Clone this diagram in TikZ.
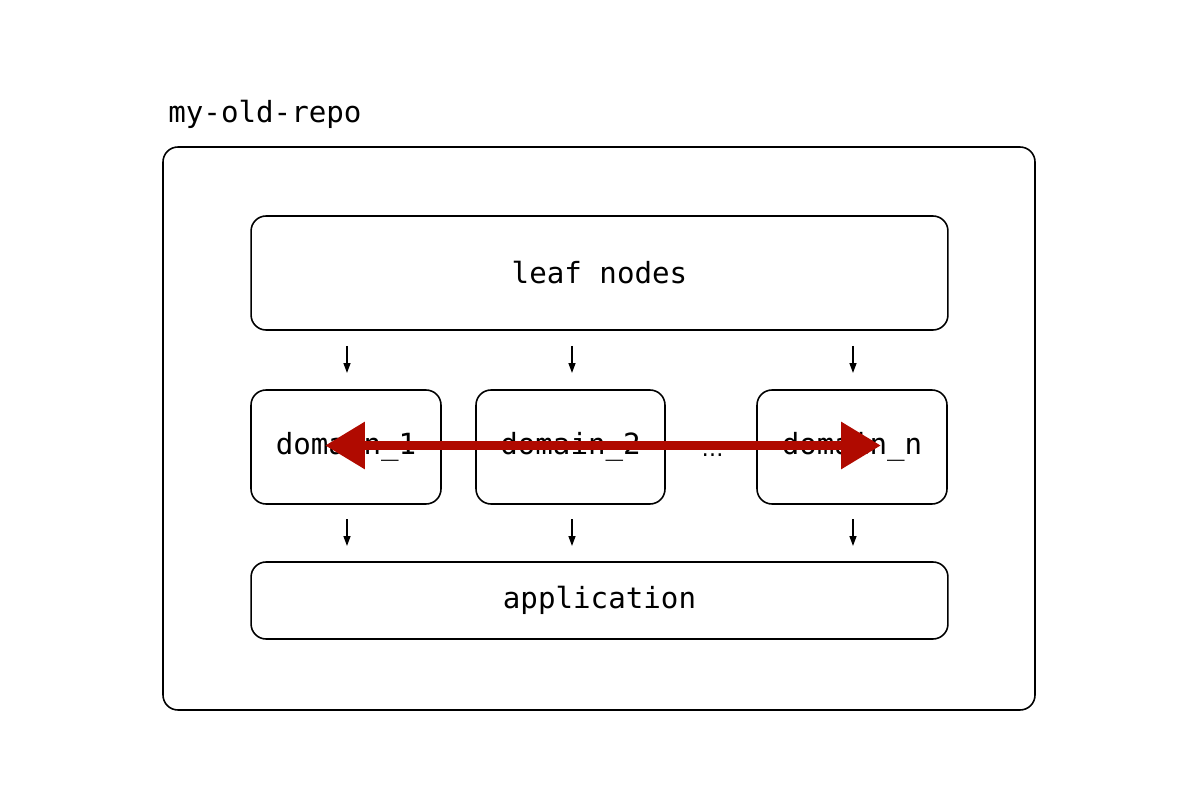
\documentclass[tikz,border=0pt]{standalone}
\usepackage{fontspec}
\setmonofont{DejaVu Sans Mono}
\newfontfamily\dotsfont{DejaVu Sans}
\usetikzlibrary{arrows.meta}
\definecolor{arrowred}{HTML}{B00A00}
\begin{document}
\begin{tikzpicture}[x=0.02cm,y=-0.02cm,
  box/.style={draw=black, line width=0.9pt, rounded corners=0.3cm},
  lbl/.style={font=\ttfamily\fontsize{16.6}{19}\selectfont, inner sep=0pt},
  flow/.style={-{Triangle[length=0.2cm,width=0.14cm]}, line width=0.8pt},
  bigarrow/.style={{Triangle[length=0.8cm,width=0.9cm]}-{Triangle[length=0.8cm,width=0.9cm]}, line width=0.19cm, draw=arrowred, fill=arrowred}]
\useasboundingbox (0,0) rectangle (1200,800);
\node[lbl, anchor=base west] (title) at (168,123) {my-old-repo};
\draw[box] (163,147) rectangle (1035,710);
\node[box, minimum width=13.94cm, minimum height=2.28cm] (leaf) at (599.5,273) {};
\node[lbl] (leaft) at (leaf.center) {leaf nodes};
\node[box, minimum width=3.8cm, minimum height=2.28cm] (d1) at (346,447) {};
\node[box, minimum width=3.78cm, minimum height=2.28cm] (d2) at (570.5,447) {};
\node[box, minimum width=3.8cm, minimum height=2.28cm] (dn) at (852,447) {};
\node[lbl] (d1t) at (d1.center) {domain\_1};
\node[lbl] (d2t) at (d2.center) {domain\_2};
\node[lbl] (dnt) at (dn.center) {domain\_n};
\node[inner sep=0pt, font=\dotsfont\fontsize{12.5}{15}\selectfont, anchor=base] (dots) at (712.5,456) {…};
\node[box, minimum width=13.94cm, minimum height=1.54cm] (app) at (599.5,600.5) {};
\node[lbl] (appt) at (app.center) {application};
\coordinate (a1s) at (347,346); \coordinate (a1e) at (347,373);
\coordinate (a2s) at (572,346); \coordinate (a2e) at (572,373);
\coordinate (a3s) at (853,346); \coordinate (a3e) at (853,373);
\coordinate (b1s) at (347,519); \coordinate (b1e) at (347,546);
\coordinate (b2s) at (572,519); \coordinate (b2e) at (572,546);
\coordinate (b3s) at (853,519); \coordinate (b3e) at (853,546);
\foreach \s/\e in {a1s/a1e,a2s/a2e,a3s/a3e,b1s/b1e,b2s/b2e,b3s/b3e}
  \draw[flow] (\s) -- (\e);
\coordinate (rl) at (325,445.5);
\coordinate (rr) at (881,445.5);
\draw[bigarrow] (rl) -- (rr);
\end{tikzpicture}
\end{document}
